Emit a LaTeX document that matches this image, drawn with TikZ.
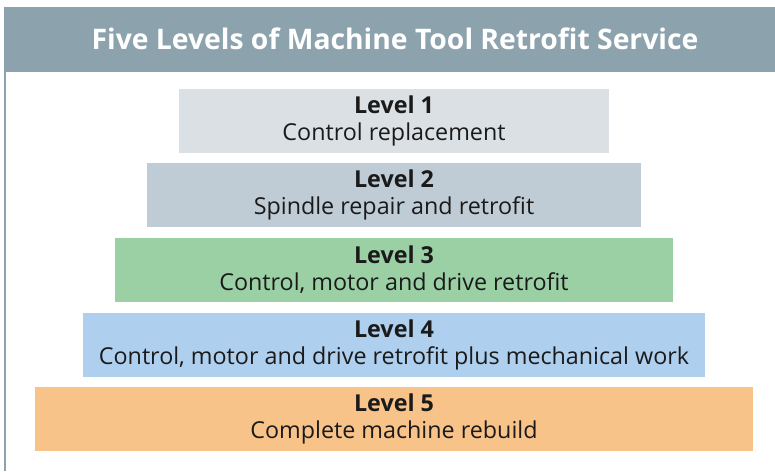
\documentclass[tikz,border=0pt]{standalone}
\usepackage{fontspec}
\setmainfont{Open Sans}
\usepackage{tikz}
\usetikzlibrary{positioning}
\definecolor{hdr}{HTML}{8CA3AE}
\definecolor{lone}{HTML}{DBE0E4}
\definecolor{ltwo}{HTML}{BFCCD6}
\definecolor{lthree}{HTML}{9BCFA4}
\definecolor{lfour}{HTML}{AECFEE}
\definecolor{lfive}{HTML}{F8C389}
\definecolor{txt}{HTML}{1A1A1A}

\begin{document}
\begin{tikzpicture}[x=1pt,y=-1pt,
  lvl/.style={fill=#1,minimum height=64pt,align=center,inner sep=0pt,
    text=txt,font=\fontsize{23.3}{27}\selectfont},
  title/.style={text=white,font=\fontsize{28.3}{30}\selectfont\bfseries}]
\useasboundingbox[fill=white] (0,0) rectangle (775,471);
\fill[hdr] (4,7) rectangle (775,72);
\draw[hdr,line width=2pt] (5,72) -- (5,471);
\node[title] (T) at (395,39) {Five Levels of Machine Tool Retrofit Service};
\node[lvl=lone,minimum width=430pt] (L1) at (394,121) {\textbf{Level 1}\\Control replacement};
\node[lvl=ltwo,minimum width=494pt] (L2) at (394,195) {\textbf{Level 2}\\Spindle repair and retrofit};
\node[lvl=lthree,minimum width=558pt] (L3) at (394,270) {\textbf{Level 3}\\Control, motor and drive retrofit};
\node[lvl=lfour,minimum width=622pt] (L4) at (394,345) {\textbf{Level 4}\\Control, motor and drive retrofit plus mechanical work};
\node[lvl=lfive,minimum width=718pt] (L5) at (394,419) {\textbf{Level 5}\\Complete machine rebuild};
\end{tikzpicture}
\end{document}
